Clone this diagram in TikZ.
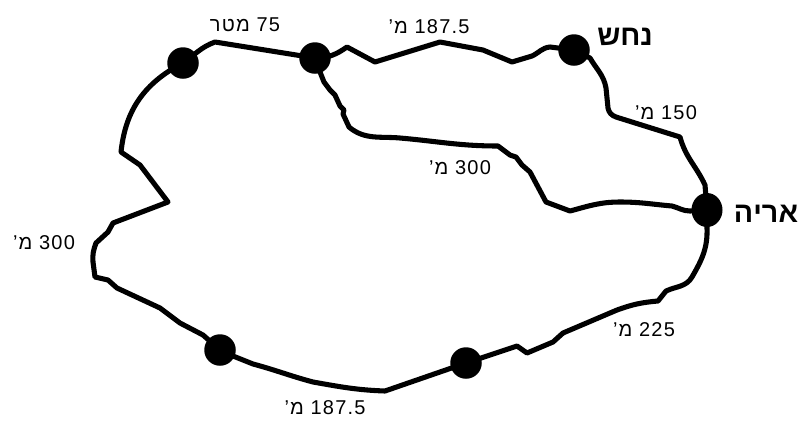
\documentclass[tikz,border=0pt]{standalone}
\usepackage{fontspec}
\setmainfont{Liberation Sans}
\newfontfamily\lblfont[LetterSpace=6]{Liberation Sans}
\usetikzlibrary{shapes.geometric}
\TeXXeTstate=1
\tikzset{
  dot/.style={circle,fill=black,inner sep=0pt,minimum size=31.5*0.75pt},
  trail/.style={line width=3.8pt,line join=round,line cap=round},
  dist/.style={font=\lblfont\fontsize{15}{18}\selectfont,inner sep=0pt},
  place/.style={font=\fontsize{21.5}{25}\selectfont\bfseries,inner sep=0pt}
}
\begin{document}
\begin{tikzpicture}[x=0.75pt,y=-0.75pt]
\useasboundingbox (0,0) rectangle (799,426);
% stations
\node[dot] (A) at (183,63) {};
\node[dot] (B) at (315,58) {};
\node[dot] (N) at (574,50) {};
\node[ellipse,fill=black,inner sep=0pt,minimum width=31*0.75pt,minimum height=34*0.75pt] (R) at (707,210) {};
\node[dot] (BL) at (220,350) {};
\node[dot] (BM) at (466,363) {};
% trails
\draw[trail] (A.center) to[out=35,in=200] (215,42) -- (B.center);
\draw[trail] (B.center) to[out=0,in=215] (347,47) -- (375,62) -- (440,42) -- (483,50) -- (512,62) -- (532,56) to[out=25,in=185] (550,47) -- (N.center);
\draw[trail] (N.center) -- (590,58) to[out=-60,in=100] (606,88) -- (608,108) to[out=-80,in=160] (616,117) -- (680,137) to[out=-75,in=115] (705,185) -- (R.center);
\draw[trail] (B.center) -- (320,72) -- (324,82) -- (330,90) -- (335,95) -- (340,106) -- (344,110) -- (343,114) -- (349,127) to[out=-40,in=175] (400,138) to[out=-5,in=180] (498,146) -- (506,152) -- (510,155) -- (516,157) -- (522,165) -- (530,172) -- (546,202) -- (570,211) to[out=15,in=180] (620,202) to[out=0,in=175] (672,206) to[out=-15,in=180] (690,211) -- (R.center);
\draw[trail] (A.center) .. controls (140,85) and (125,115) .. (121,152) -- (140,165) -- (168,202) -- (113,223) -- (108,232) -- (96,243) to[out=-110,in=95] (93,262) -- (95,277) -- (108,280) -- (117,288) -- (160,308) -- (180,323) -- (203,335) -- (BL.center);
\draw[trail] (BL.center) -- (233,356) -- (253,364) to[out=-15,in=165] (313,382) to[out=-10,in=178] (385,391) -- (BM.center);
\draw[trail] (BM.center) -- (517,346) -- (527,353) -- (553,342) -- (563,333) -- (617,310) to[out=20,in=185] (658,301) -- (666,291) to[out=25,in=-120] (692,277) to[out=60,in=-88] (707,228) -- (R.center);
% labels
\node[dist] (l1) at (245,25) {\beginR מטר\endR\ 75};
\node[dist] (l2) at (429,27) {\beginR מ’\endR\ 187.5};
\node[place] (nN) at (625,37) {\beginR נחש\endR};
\node[dist] (l3) at (666,113) {\beginR מ’\endR\ 150};
\node[dist] (l4) at (460,168) {\beginR מ’\endR\ 300};
\node[place] (nR) at (766,214) {\beginR אריה\endR};
\node[dist] (l5) at (44,243) {\beginR מ’\endR\ 300};
\node[dist] (l6) at (644,330) {\beginR מ’\endR\ 225};
\node[dist] (l7) at (325,408) {\beginR מ’\endR\ 187.5};
\end{tikzpicture}
\end{document}
